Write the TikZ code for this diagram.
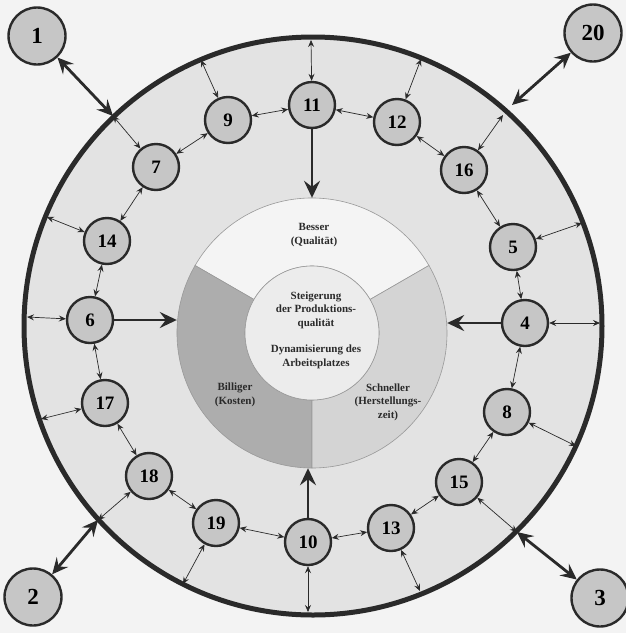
\documentclass[tikz,border=0pt]{standalone}
\usepackage{fontspec}
\setmainfont{Liberation Serif}
\usetikzlibrary{arrows.meta,calc}
\definecolor{paper}{HTML}{F3F3F3}
\definecolor{inside}{HTML}{E3E3E3}
\definecolor{nodegray}{HTML}{C6C6C6}
\definecolor{inkdark}{HTML}{2A2A2A}
\definecolor{segtop}{HTML}{F4F4F4}
\definecolor{segleft}{HTML}{ADADAD}
\definecolor{segright}{HTML}{D4D4D4}
\definecolor{core}{HTML}{ECECEC}
\begin{document}
\begin{tikzpicture}[x=1pt,y=-1pt,
  smallnode/.style={circle,draw=inkdark,line width=2.4pt,fill=nodegray,minimum size=46pt,inner sep=0pt,
     font=\bfseries\fontsize{19}{19}\selectfont},
  bignode/.style={circle,draw=inkdark,line width=2.4pt,fill=nodegray,minimum size=57pt,inner sep=0pt,
     font=\bfseries\fontsize{23}{23}\selectfont},
  thinarrow/.style={draw=inkdark,line width=0.7pt,{Stealth[length=7pt,width=6pt,inset=2.5pt]}-{Stealth[length=7pt,width=6pt,inset=2.5pt]}},
  thickdouble/.style={draw=inkdark,line width=2.8pt,{Stealth[length=16pt,width=15pt,inset=6pt]}-{Stealth[length=16pt,width=15pt,inset=6pt]}},
  thickone/.style={draw=inkdark,line width=2.8pt,-{Stealth[length=17pt,width=16pt,inset=6pt]}},
  segment/.style={draw=gray!80,line width=0.6pt},
  ringtext/.style={align=center,font=\bfseries\fontsize{11}{13.5}\selectfont,text=inkdark}
]
\useasboundingbox (0,0) rectangle (626,633);
\fill[paper] (0,0) rectangle (626,633);
% big circle
\fill[inside] (313,326) circle[radius=289];
\draw[inkdark,line width=5pt] (313,326) circle[radius=289];

% inner ring
\coordinate (C) at (312,333);
\node[circle,minimum size=270pt,inner sep=0pt] (ring) at (C) {};
\begin{scope}[shift={(C)},x=1pt,y=1pt]
  \path[segment,fill=segtop] (30:135) arc[start angle=30,end angle=150,radius=135] -- (150:67) arc[start angle=150,end angle=30,radius=67] -- cycle;
  \path[segment,fill=segleft] (150:135) arc[start angle=150,end angle=270,radius=135] -- (270:67) arc[start angle=270,end angle=150,radius=67] -- cycle;
  \path[segment,fill=segright] (270:135) arc[start angle=270,end angle=390,radius=135] -- (30:67) arc[start angle=30,end angle=-90,radius=67] -- cycle;
  \path[segment,fill=core] (0,0) circle[radius=67];
\end{scope}

\node[ringtext] (tbesser) at (314,235) {Besser\\(Qualität)};
\node[ringtext] (tsteig) at (316,310) {Steigerung\\der Produktions-\\qualität};
\node[ringtext] (tdyn) at (316,357) {Dynamisierung des\\Arbeitsplatzes};
\node[ringtext] (tbill) at (235,395) {Billiger\\(Kosten)};
\node[ringtext] (tschn) at (388,402) {Schneller\\(Herstellungs-\\zeit)};

% junctions on the big circle
\coordinate (j1) at (113,116);
\coordinate (j20) at (512,105);
\coordinate (j16) at (503,115);
\coordinate (j2) at (98,520);
\coordinate (j3) at (517,532);
\coordinate (j9) at (201,60);
\coordinate (j11) at (311,40);
\coordinate (j12) at (421,59);
\coordinate (j5) at (582,223);
\coordinate (j4) at (600,323);
\coordinate (j8) at (576,446);
\coordinate (j13) at (420,591);
\coordinate (j10) at (308,612);
\coordinate (j19) at (183,584);
\coordinate (j17) at (41,419);
\coordinate (j6) at (27,317);
\coordinate (j14) at (47,217);

% nodes
\node[bignode] (n1) at (37,36) {1};
\node[bignode] (n20) at (593,33) {20};
\node[bignode] (n2) at (33,597) {2};
\node[bignode] (n3) at (600,598) {3};
\node[smallnode] (n11) at (312,105) {11};
\node[smallnode] (n9) at (228,120) {9};
\node[smallnode] (n7) at (156,167) {7};
\node[smallnode] (n12) at (397,122) {12};
\node[smallnode] (n16) at (464,170) {16};
\node[smallnode] (n14) at (107,241) {14};
\node[smallnode] (n6) at (90,320) {6};
\node[smallnode] (n5) at (513,247) {5};
\node[smallnode] (n4) at (525,323) {4};
\node[smallnode] (n17) at (105,403) {17};
\node[smallnode] (n18) at (149,476) {18};
\node[smallnode] (n19) at (216,523) {19};
\node[smallnode] (n10) at (308,542) {10};
\node[smallnode] (n13) at (391,528) {13};
\node[smallnode] (n15) at (459,482) {15};
\node[smallnode] (n8) at (507,412) {8};

% outer thick double arrows
\draw[thickdouble] (n1) -- (j1);
\draw[thickdouble] (n20) -- (j20);
\draw[thickdouble] (n2) -- (j2);
\draw[thickdouble] (n3) -- (j3);

% thick arrows into the ring
\draw[thickone] (n11) -- (n11 |- ring.north);
\draw[thickone] (n6) -- (ring.west |- n6);
\draw[thickone] (n4) -- (ring.east |- n4);
\draw[thickone] (n10) -- (n10 |- ring.south);

% thin arrows circle <-> nodes
\draw[thinarrow] (j1) -- (n7);
\draw[thinarrow] (j9) -- (n9);
\draw[thinarrow] (j11) -- (n11);
\draw[thinarrow] (j12) -- (n12);
\draw[thinarrow] (j16) -- (n16);
\draw[thinarrow] (j5) -- (n5);
\draw[thinarrow] (j4) -- (n4);
\draw[thinarrow] (j8) -- (n8);
\draw[thinarrow] (j3) -- (n15);
\draw[thinarrow] (j13) -- (n13);
\draw[thinarrow] (j10) -- (n10);
\draw[thinarrow] (j19) -- (n19);
\draw[thinarrow] (j2) -- (n18);
\draw[thinarrow] (j17) -- (n17);
\draw[thinarrow] (j6) -- (n6);
\draw[thinarrow] (j14) -- (n14);

% thin arrows node <-> node
\draw[thinarrow] (n7) -- (n9);
\draw[thinarrow] (n9) -- (n11);
\draw[thinarrow] (n11) -- (n12);
\draw[thinarrow] (n12) -- (n16);
\draw[thinarrow] (n16) -- (n5);
\draw[thinarrow] (n5) -- (n4);
\draw[thinarrow] (n4) -- (n8);
\draw[thinarrow] (n8) -- (n15);
\draw[thinarrow] (n15) -- (n13);
\draw[thinarrow] (n13) -- (n10);
\draw[thinarrow] (n10) -- (n19);
\draw[thinarrow] (n19) -- (n18);
\draw[thinarrow] (n18) -- (n17);
\draw[thinarrow] (n17) -- (n6);
\draw[thinarrow] (n6) -- (n14);
\draw[thinarrow] (n14) -- (n7);
\end{tikzpicture}
\end{document}
